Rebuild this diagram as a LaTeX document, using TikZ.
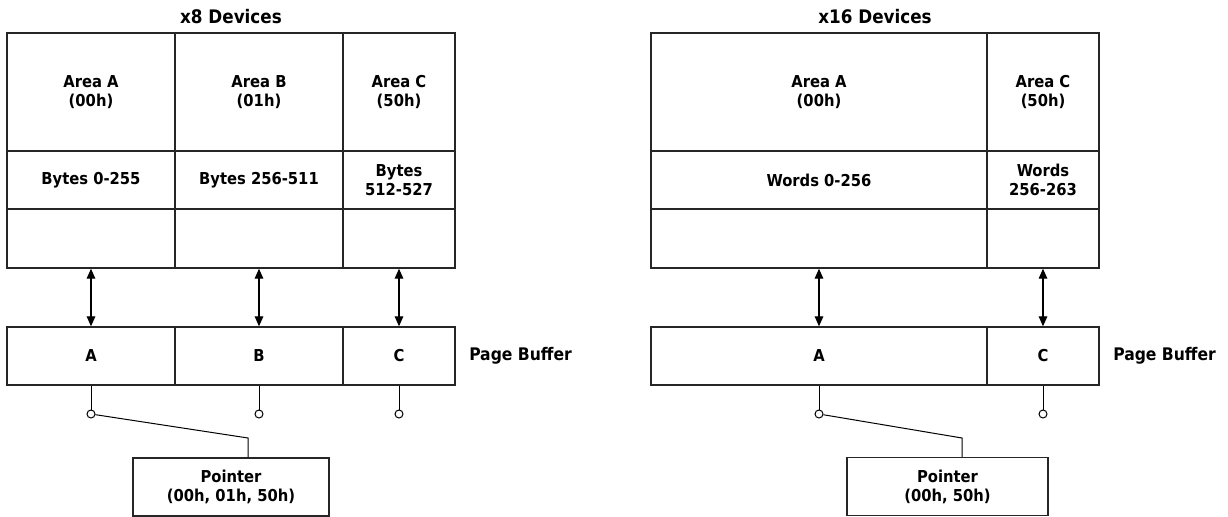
\documentclass[tikz,border=0pt]{standalone}
\usepackage{fontspec}
\newfontfamily\lblfont{DejaVu Sans Condensed}
\usetikzlibrary{arrows.meta,calc}
\tikzset{
	cell/.style={draw=black!85, line width=1.1pt, inner sep=0pt, align=center},
	rowtop/.style={cell, minimum height=88.5pt},
	rowmid/.style={cell, minimum height=43.5pt},
	rowlow/.style={cell, minimum height=44.25pt},
	colwide/.style={minimum width=126pt},
	colnarrow/.style={minimum width=84pt},
	colbig/.style={minimum width=252pt},
	biarrow/.style={line width=0.8pt, {Triangle[length=7.5pt,width=6.5pt]}-{Triangle[length=7.5pt,width=6.5pt]}},
	wire/.style={line width=0.75pt},
	port/.style={circle, draw, line width=0.75pt, fill=white, minimum size=6pt, inner sep=0pt},
	title/.style={inner sep=0pt, font=\lblfont\bfseries\fontsize{14pt}{17pt}\selectfont},
	side/.style={inner sep=0pt, anchor=west, font=\lblfont\bfseries\fontsize{13pt}{16pt}\selectfont}
}
\begin{document}
\begin{tikzpicture}[x=0.75pt, y=-0.75pt, font=\lblfont\bfseries\fontsize{12.3pt}{14.25pt}\selectfont]
			%%%%% START %%%%%
			\useasboundingbox (0,0) rectangle (1228,517);
			
			% x8 devices
			\node[title] (head8) at (231,17) {x8 Devices};
			
			\node[rowtop, colwide] (areaA8) at (91,92) {Area A\\(00h)};
			\node[rowtop, colwide] (areaB8) at (259,92) {Area B\\(01h)};
			\node[rowtop, colnarrow] (areaC8) at (399,92) {Area C\\(50h)};
			
			\node[rowmid, colwide] (bytesA8) at (91,180) {Bytes 0-255};
			\node[rowmid, colwide] (bytesB8) at (259,180) {Bytes 256-511};
			\node[rowmid, colnarrow] (bytesC8) at (399,180) {Bytes\\512-527};
			
			\node[rowlow, colwide] (spareA8) at (91,238.5) {};
			\node[rowlow, colwide] (spareB8) at (259,238.5) {};
			\node[rowlow, colnarrow] (spareC8) at (399,238.5) {};
			
			\node[rowmid, colwide] (bufA8) at (91,356) {A};
			\node[rowmid, colwide] (bufB8) at (259,356) {B};
			\node[rowmid, colnarrow] (bufC8) at (399,356) {C};
			\node[side] (pbuf8) at (469,356) {Page Buffer};
			
			\draw[biarrow] (spareA8.south) -- (bufA8.north);
			\draw[biarrow] (spareB8.south) -- (bufB8.north);
			\draw[biarrow] (spareC8.south) -- (bufC8.north);
			
			\node[port] (portA8) at (91,414) {};
			\node[port] (portB8) at (259,414) {};
			\node[port] (portC8) at (399,414) {};
			\draw[wire] (bufA8.south) -- (portA8.north);
			\draw[wire] (bufB8.south) -- (portB8.north);
			\draw[wire] (bufC8.south) -- (portC8.north);
			
			\node[rowmid, minimum width=147pt] (ptr8) at (231,487) {Pointer\\(00h, 01h, 50h)};
			\coordinate (bend8) at (248,438);
			\draw[wire] (portA8) -- (bend8) -- (bend8 |- ptr8.north);
			
			% x16 devices
			\node[title] (head16) at (875,17) {x16 Devices};
			
			\node[rowtop, colbig] (areaA16) at (819,92) {Area A\\(00h)};
			\node[rowtop, colnarrow] (areaC16) at (1043,92) {Area C\\(50h)};
			
			\node[rowmid, colbig] (wordsA16) at (819,180) {Words 0-256};
			\node[rowmid, colnarrow] (wordsC16) at (1043,180) {Words\\256-263};
			
			\node[rowlow, colbig] (spareA16) at (819,238.5) {};
			\node[rowlow, colnarrow] (spareC16) at (1043,238.5) {};
			
			\node[rowmid, colbig] (bufA16) at (819,356) {A};
			\node[rowmid, colnarrow] (bufC16) at (1043,356) {C};
			\node[side] (pbuf16) at (1113,356) {Page Buffer};
			
			\draw[biarrow] (spareA16.south) -- (bufA16.north);
			\draw[biarrow] (spareC16.south) -- (bufC16.north);
			
			\node[port] (portA16) at (819,414) {};
			\node[port] (portC16) at (1043,414) {};
			\draw[wire] (bufA16.south) -- (portA16.north);
			\draw[wire] (bufC16.south) -- (portC16.north);
			
			\node[rowmid, minimum width=150.75pt] (ptr16) at (947.5,486.5) {Pointer\\(00h, 50h)};
			\coordinate (bend16) at (962,438);
			\draw[wire] (portA16) -- (bend16) -- (bend16 |- ptr16.north);
			%%%%% END %%%%%
\end{tikzpicture}
\end{document}
